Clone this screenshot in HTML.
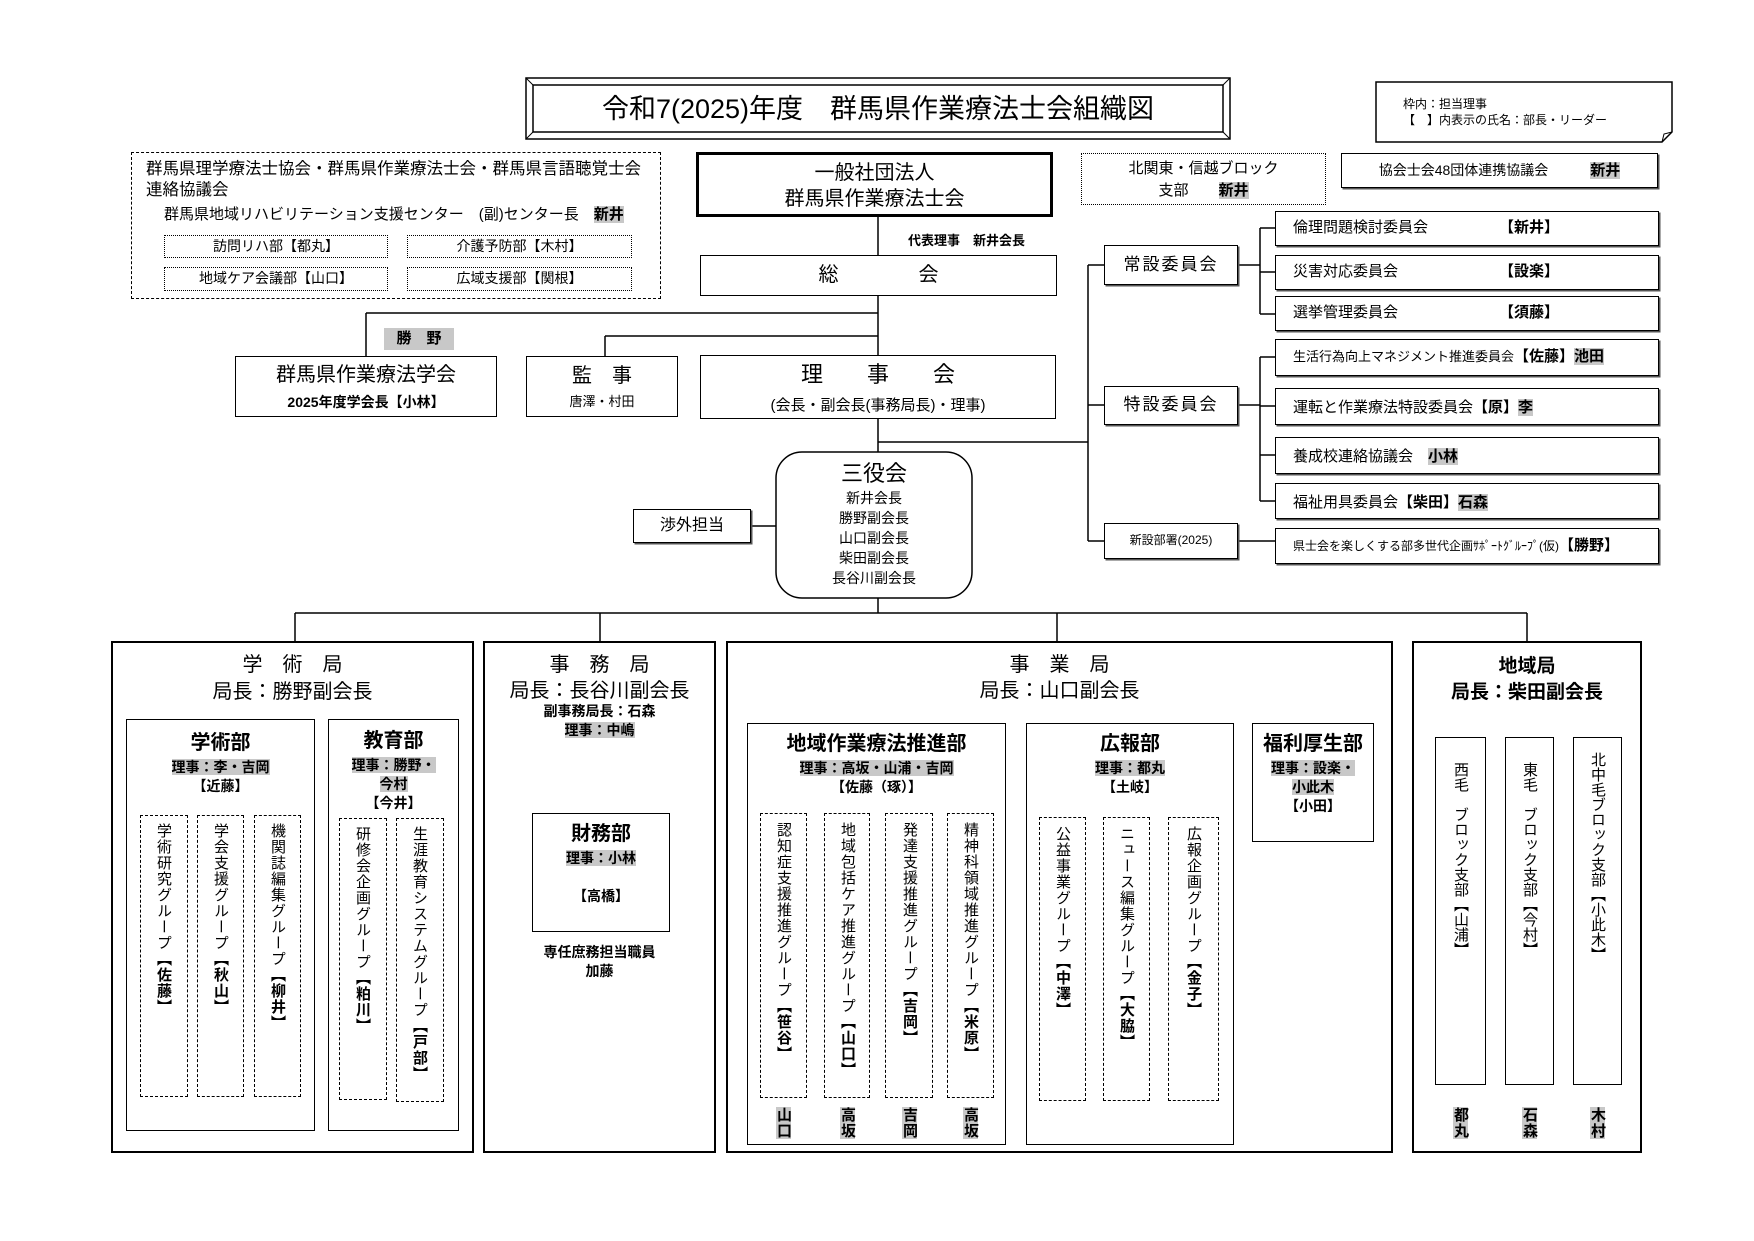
<!DOCTYPE html>
<html><head><meta charset="utf-8">
<style>
*{margin:0;padding:0;box-sizing:border-box}
body{width:1754px;height:1241px;background:#fff;position:relative;overflow:hidden;font-family:"Liberation Sans","Noto Sans CJK JP",sans-serif;color:#000}
.a{position:absolute}
.b{position:absolute;border:1.5px solid #000;background:#fff}
.d{position:absolute;border:1.5px dashed #000}
.o{position:absolute;border:1.3px dotted #000}
.c{text-align:center}
.g{background:#c8c8c8}
.bo{font-weight:bold}
.v{writing-mode:vertical-rl;font-size:15px;line-height:1;position:absolute;letter-spacing:1px}
.sh{box-shadow:1.5px 1.5px 0 #555}
</style></head><body>
<svg class="a" style="left:0;top:0" width="1754" height="1241">
<g stroke="#000" stroke-width="1.5" fill="none">
<line x1="878" y1="217" x2="878" y2="452"/>
<line x1="366" y1="313" x2="878" y2="313"/><line x1="366" y1="313" x2="366" y2="356"/>
<line x1="605" y1="336" x2="878" y2="336"/><line x1="605" y1="336" x2="605" y2="356"/>
<line x1="751" y1="526" x2="776" y2="526"/>
<line x1="878" y1="442" x2="1088" y2="442"/>
<line x1="1088" y1="265" x2="1088" y2="541"/>
<line x1="1088" y1="265" x2="1104" y2="265"/><line x1="1088" y1="405" x2="1104" y2="405"/><line x1="1088" y1="541" x2="1104" y2="541"/>
<line x1="1238" y1="265" x2="1260" y2="265"/><line x1="1260" y1="228" x2="1260" y2="314"/>
<line x1="1260" y1="228" x2="1275" y2="228"/><line x1="1260" y1="272" x2="1275" y2="272"/><line x1="1260" y1="314" x2="1275" y2="314"/>
<line x1="1238" y1="405" x2="1260" y2="405"/><line x1="1260" y1="357" x2="1260" y2="501"/>
<line x1="1260" y1="357" x2="1275" y2="357"/><line x1="1260" y1="406" x2="1275" y2="406"/><line x1="1260" y1="455" x2="1275" y2="455"/><line x1="1260" y1="501" x2="1275" y2="501"/>
<line x1="1238" y1="541" x2="1275" y2="541"/>
<line x1="878" y1="598" x2="878" y2="613"/>
<line x1="295" y1="613" x2="1527" y2="613"/>
<line x1="295" y1="613" x2="295" y2="641"/><line x1="600" y1="613" x2="600" y2="641"/><line x1="1057" y1="613" x2="1057" y2="641"/><line x1="1527" y1="613" x2="1527" y2="641"/>
</g>
<rect x="526" y="78" width="704" height="61" fill="#fff" stroke="#000" stroke-width="1.5"/>
<rect x="533" y="85" width="690" height="47" fill="none" stroke="#000" stroke-width="1.5"/>
<g stroke="#000" stroke-width="1"><line x1="526" y1="78" x2="533" y2="85"/><line x1="1230" y1="78" x2="1223" y2="85"/><line x1="526" y1="139" x2="533" y2="132"/><line x1="1230" y1="139" x2="1223" y2="132"/></g>
<path d="M1376 82 H1672 V132 L1662 142 H1376 Z" fill="#fff" stroke="#000" stroke-width="1.5"/>
<path d="M1662 142 L1664 134 L1672 132" fill="none" stroke="#000" stroke-width="1"/>
<rect x="776" y="452" width="196" height="146" rx="26" fill="#fff" stroke="#000" stroke-width="1.5"/>
</svg>

<div class="a c" style="left:533px;top:90px;width:690px;font-size:27px;line-height:38px">令和7(2025)年度　群馬県作業療法士会組織図</div>
<div class="a" style="left:1403px;top:96px;font-size:12px;line-height:16px">枠内：担当理事<br>【　】内表示の氏名：部長・リーダー</div>

<div class="d" style="left:131px;top:152px;width:530px;height:147px"></div>
<div class="a" style="left:146px;top:159px;font-size:16.5px;line-height:21px">群馬県理学療法士協会・群馬県作業療法士会・群馬県言語聴覚士会<br>連絡協議会</div>
<div class="a" style="left:164px;top:206px;font-size:15px;line-height:18px">群馬県地域リハビリテーション支援センター　(副)センター長　<span class="g bo">新井</span></div>
<div class="o c" style="left:164px;top:235px;width:224px;height:23px;font-size:14px;line-height:20px">訪問リハ部【都丸】</div>
<div class="o c" style="left:407px;top:235px;width:225px;height:23px;font-size:14px;line-height:20px">介護予防部【木村】</div>
<div class="o c" style="left:164px;top:267px;width:224px;height:24px;font-size:14px;line-height:21px">地域ケア会議部【山口】</div>
<div class="o c" style="left:407px;top:267px;width:225px;height:24px;font-size:14px;line-height:21px">広域支援部【関根】</div>

<div class="b c" style="left:696px;top:152px;width:357px;height:65px;border-width:3px;font-size:20px;line-height:26px;padding-top:5px">一般社団法人<br>群馬県作業療法士会</div>
<div class="a bo" style="left:908px;top:230px;font-size:13px">代表理事　新井会長</div>
<div class="b c" style="left:700px;top:255px;width:357px;height:41px;font-size:20px;line-height:38px">総　　　　会</div>

<div class="o c" style="left:1081px;top:153px;width:245px;height:52px;font-size:15px;line-height:22px;padding-top:4px">北関東・信越ブロック<br>支部　　<span class="g bo">新井</span></div>
<div class="b c sh" style="left:1341px;top:153px;width:317px;height:35px;font-size:14px;line-height:32px">協会士会48団体連携協議会　　　<span class="g bo" style="font-size:15px">新井</span></div>

<div class="a c g bo" style="left:384px;top:328px;width:70px;height:22px;font-size:15px;line-height:22px">勝　野</div>
<div class="b c" style="left:235px;top:356px;width:262px;height:61px;font-size:20px;line-height:26px;padding-top:5px">群馬県作業療法学会<br><span class="bo" style="font-size:14px">2025年度学会長【小林】</span></div>
<div class="b c" style="left:526px;top:356px;width:152px;height:61px;font-size:20px;line-height:24px;padding-top:7px">監　事<br><span style="font-size:13px">唐澤・村田</span></div>
<div class="b c" style="left:700px;top:355px;width:356px;height:64px;font-size:22px;line-height:28px;padding-top:5px">理　　事　　会<br><span style="font-size:15px">(会長・副会長(事務局長)・理事)</span></div>

<div class="a c" style="left:776px;top:460px;width:196px;font-size:14px;line-height:20px"><span style="font-size:22px;line-height:28px">三役会</span><br>新井会長<br>勝野副会長<br>山口副会長<br>柴田副会長<br>長谷川副会長</div>
<div class="b c sh" style="left:633px;top:509px;width:118px;height:34px;font-size:16px;line-height:31px">渉外担当</div>

<div class="b c sh" style="left:1104px;top:245px;width:134px;height:40px;font-size:17px;line-height:37px;letter-spacing:2px">常設委員会</div>
<div class="b c sh" style="left:1104px;top:386px;width:134px;height:39px;font-size:17px;line-height:36px;letter-spacing:2px">特設委員会</div>
<div class="b c sh" style="left:1104px;top:523px;width:134px;height:36px;font-size:12px;line-height:33px">新設部署(2025)</div>

<div class="b sh" style="left:1275px;top:211px;width:384px;height:35px;font-size:15px;line-height:32px;padding-left:17px">倫理問題検討委員会<span class="a bo" style="left:223px">【新井】</span></div>
<div class="b sh" style="left:1275px;top:255px;width:384px;height:35px;font-size:15px;line-height:32px;padding-left:17px">災害対応委員会<span class="a bo" style="left:223px">【設楽】</span></div>
<div class="b sh" style="left:1275px;top:296px;width:384px;height:35px;font-size:15px;line-height:32px;padding-left:17px">選挙管理委員会<span class="a bo" style="left:223px">【須藤】</span></div>
<div class="b sh" style="left:1275px;top:339px;width:384px;height:37px;font-size:13px;line-height:34px;padding-left:17px">生活行為向上マネジメント推進委員会<span class="bo" style="font-size:15px">【佐藤】<span class="g">池田</span></span></div>
<div class="b sh" style="left:1275px;top:388px;width:384px;height:37px;font-size:15px;line-height:38px;padding-left:17px">運転と作業療法特設委員会<span class="bo">【原】<span class="g">李</span></span></div>
<div class="b sh" style="left:1275px;top:437px;width:384px;height:37px;font-size:15px;line-height:38px;padding-left:17px">養成校連絡協議会　<span class="bo g">小林</span></div>
<div class="b sh" style="left:1275px;top:483px;width:384px;height:36px;font-size:15px;line-height:37px;padding-left:17px">福祉用具委員会<span class="bo">【柴田】<span class="g">石森</span></span></div>
<div class="b sh" style="left:1275px;top:528px;width:384px;height:36px;font-size:12px;line-height:34px;padding-left:17px">県士会を楽しくする部多世代企画ｻﾎﾟｰﾄｸﾞﾙｰﾌﾟ(仮)<span class="bo" style="font-size:15px">【勝野】</span></div>

<div class="b" style="left:111px;top:641px;width:363px;height:512px;border-width:2px"></div>
<div class="a c" style="left:111px;top:652px;width:363px;font-size:20px;line-height:27px">学　術　局<br>局長：勝野副会長</div>
<div class="b" style="left:126px;top:719px;width:189px;height:412px"></div>
<div class="a c bo" style="left:126px;top:731px;width:189px;font-size:20px;line-height:25px">学術部</div>
<div class="a c bo" style="left:126px;top:758px;width:189px;font-size:14px;line-height:19px"><span class="g">理事：李・吉岡</span><br>【近藤】</div>
<div class="d" style="left:140px;top:815px;width:48px;height:282px"></div>
<div class="d" style="left:197px;top:815px;width:47px;height:282px"></div>
<div class="d" style="left:254px;top:815px;width:47px;height:282px"></div>
<div class="v" style="left:156px;top:823px">学術研究グループ<b>【佐藤】</b></div>
<div class="v" style="left:213px;top:823px">学会支援グループ<b>【秋山】</b></div>
<div class="v" style="left:270px;top:823px">機関誌編集グループ<b>【柳井】</b></div>
<div class="b" style="left:328px;top:719px;width:131px;height:412px"></div>
<div class="a c bo" style="left:328px;top:729px;width:131px;font-size:20px;line-height:25px">教育部</div>
<div class="a c bo" style="left:328px;top:756px;width:131px;font-size:14px;line-height:19px"><span class="g">理事：勝野・<br>今村</span><br>【今井】</div>
<div class="d" style="left:339px;top:818px;width:48px;height:282px"></div>
<div class="d" style="left:396px;top:818px;width:48px;height:284px"></div>
<div class="v" style="left:355px;top:826px">研修会企画グループ<b>【粕川】</b></div>
<div class="v" style="left:412px;top:826px">生涯教育システムグループ<b>【戸部】</b></div>

<div class="b" style="left:483px;top:641px;width:233px;height:512px;border-width:2px"></div>
<div class="a c" style="left:483px;top:652px;width:233px;font-size:20px;line-height:26px">事　務　局<br>局長：長谷川副会長</div>
<div class="a c bo" style="left:483px;top:702px;width:233px;font-size:14px;line-height:19px">副事務局長：石森<br><span class="g">理事：中嶋</span></div>
<div class="b" style="left:532px;top:813px;width:138px;height:119px"></div>
<div class="a c bo" style="left:532px;top:822px;width:138px;font-size:20px;line-height:25px">財務部</div>
<div class="a c bo" style="left:532px;top:849px;width:138px;font-size:14px;line-height:19px"><span class="g">理事：小林</span><br><br>【高橋】</div>
<div class="a c bo" style="left:483px;top:943px;width:233px;font-size:14px;line-height:19px">専任庶務担当職員<br>加藤</div>

<div class="b" style="left:726px;top:641px;width:667px;height:512px;border-width:2px"></div>
<div class="a c" style="left:726px;top:652px;width:667px;font-size:20px;line-height:26px">事　業　局<br>局長：山口副会長</div>
<div class="b" style="left:747px;top:723px;width:259px;height:422px"></div>
<div class="a c bo" style="left:747px;top:732px;width:259px;font-size:20px;line-height:25px">地域作業療法推進部</div>
<div class="a c bo" style="left:747px;top:759px;width:259px;font-size:14px;line-height:19px"><span class="g">理事：高坂・山浦・吉岡</span><br>【佐藤（琢）】</div>
<div class="d" style="left:760px;top:813px;width:47px;height:285px"></div>
<div class="d" style="left:824px;top:813px;width:46px;height:285px"></div>
<div class="d" style="left:885px;top:813px;width:48px;height:285px"></div>
<div class="d" style="left:947px;top:813px;width:47px;height:285px"></div>
<div class="v" style="left:776px;top:822px">認知症支援推進グループ<b>【笹谷】</b></div>
<div class="v" style="left:840px;top:822px">地域包括ケア推進グループ<b>【山口】</b></div>
<div class="v" style="left:902px;top:822px">発達支援推進グループ<b>【吉岡】</b></div>
<div class="v" style="left:963px;top:822px">精神科領域推進グループ<b>【米原】</b></div>
<div class="v bo g" style="left:776px;top:1107px;line-height:15px">山口</div>
<div class="v bo g" style="left:840px;top:1107px;line-height:15px">高坂</div>
<div class="v bo g" style="left:902px;top:1107px;line-height:15px">吉岡</div>
<div class="v bo g" style="left:963px;top:1107px;line-height:15px">高坂</div>
<div class="b" style="left:1026px;top:723px;width:208px;height:422px"></div>
<div class="a c bo" style="left:1026px;top:732px;width:208px;font-size:20px;line-height:25px">広報部</div>
<div class="a c bo" style="left:1026px;top:759px;width:208px;font-size:14px;line-height:19px"><span class="g">理事：都丸</span><br>【土岐】</div>
<div class="d" style="left:1039px;top:817px;width:47px;height:284px"></div>
<div class="d" style="left:1103px;top:817px;width:47px;height:284px"></div>
<div class="d" style="left:1168px;top:817px;width:51px;height:284px"></div>
<div class="v" style="left:1055px;top:826px">公益事業グループ<b>【中澤】</b></div>
<div class="v" style="left:1119px;top:826px">ニュース編集グループ<b>【大脇】</b></div>
<div class="v" style="left:1186px;top:826px">広報企画グループ<b>【金子】</b></div>
<div class="b" style="left:1252px;top:723px;width:122px;height:119px"></div>
<div class="a c bo" style="left:1252px;top:732px;width:122px;font-size:20px;line-height:25px">福利厚生部</div>
<div class="a c bo" style="left:1252px;top:759px;width:122px;font-size:14px;line-height:19px"><span class="g">理事：設楽・<br>小此木</span><br>【小田】</div>

<div class="b" style="left:1412px;top:641px;width:230px;height:512px;border-width:2px"></div>
<div class="a c bo" style="left:1412px;top:654px;width:230px;font-size:19px;line-height:26px">地域局<br>局長：柴田副会長</div>
<div class="b" style="left:1435px;top:737px;width:51px;height:348px"></div>
<div class="b" style="left:1505px;top:737px;width:49px;height:348px"></div>
<div class="b" style="left:1573px;top:737px;width:49px;height:348px"></div>
<div class="v" style="left:1453px;top:762px;letter-spacing:0">西毛　ブロック支部【山浦】</div>
<div class="v" style="left:1522px;top:762px;letter-spacing:0">東毛　ブロック支部【今村】</div>
<div class="v" style="left:1590px;top:752px;letter-spacing:0">北中毛ブロック支部【小此木】</div>
<div class="v bo g" style="left:1453px;top:1107px;line-height:15px">都丸</div>
<div class="v bo g" style="left:1522px;top:1107px;line-height:15px">石森</div>
<div class="v bo g" style="left:1590px;top:1107px;line-height:15px">木村</div>
</body></html>
